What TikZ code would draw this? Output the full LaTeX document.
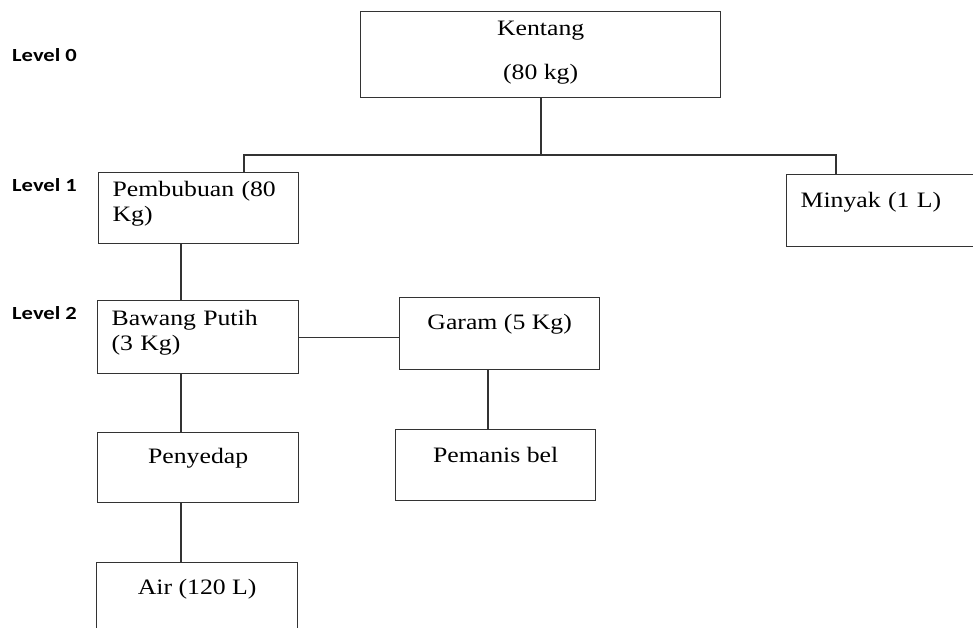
\documentclass[tikz,border=0pt]{standalone}
\usepackage{fontspec}
\setmainfont{Liberation Serif}[FakeStretch=1.17]
\newfontfamily\levelfont{Carlito}[FakeStretch=1.22]
\begin{document}
\begin{tikzpicture}
  [x=1pt,y=1pt,
   box/.style={draw=black!80,line width=1.3pt,anchor=north west,inner ysep=0pt,
     font=\fontsize{22}{25}\selectfont},
   lbox/.style={box,align=left,text width=#1,inner xsep=14pt},
   cbox/.style={box,align=center,minimum width=#1,inner xsep=0pt},
   level/.style={anchor=base west,inner sep=0pt,font=\levelfont\bfseries\fontsize{18.5}{20}\selectfont},
   link/.style={draw=black!80,line width=1.3pt},]

\useasboundingbox (0,0) rectangle (973,-628);
\clip (0,0) rectangle (973,-628);

\foreach \lv/\y in {0/62,1/192,2/319}
\node[level] (level\lv) at (12,-\y) {Level \lv};

\node[cbox=360pt,text height=68pt,text depth=18pt] (kentang) at (360,-11) {Kentang\\[19pt](80 kg)};
\node[lbox=172pt,text height=24pt,text depth=47pt] (pembubuan) at (98,-172) {Pembubuan (80\\Kg)};
\node[lbox=172pt,text height=33pt,text depth=39pt] (minyak) at (786,-174) {Minyak (1 L)};
\node[lbox=173pt,text height=25pt,text depth=48pt] (bawang) at (97,-300) {Bawang Putih\\(3 Kg)};
\node[cbox=200pt,text height=32pt,text depth=40pt] (garam) at (399,-297) {Garam (5 Kg)};
\node[cbox=200pt,text height=33pt,text depth=38pt] (pemanis) at (395,-429) {Pemanis bel};
\node[cbox=201pt,text height=31pt,text depth=39pt] (penyedap) at (97,-432) {Penyedap};
\node[cbox=201pt,text height=32pt,text depth=40pt] (air) at (96,-562) {Air (120 L)};

\coordinate (trunk) at (541,-155);
\coordinate (dropL) at (244,-155);
\coordinate (dropR) at (836,-155);
\coordinate (spineL) at (181,0);
\coordinate (spineR) at (488,0);

\draw[link] (kentang.south -| trunk) -- (trunk);
\draw[link] (dropL |- pembubuan.north) -- (dropL) -- (dropR) -- (dropR |- minyak.north);
\draw[link] (pembubuan.south -| spineL) -- (bawang.north -| spineL);
\draw[link] (bawang.south -| spineL) -- (penyedap.north -| spineL);
\draw[link] (penyedap.south -| spineL) -- (air.north -| spineL);
\draw[link] (bawang.east) -- (bawang.east -| garam.west);
\draw[link] (garam.south -| spineR) -- (pemanis.north -| spineR);

  \end{tikzpicture}
\end{document}
